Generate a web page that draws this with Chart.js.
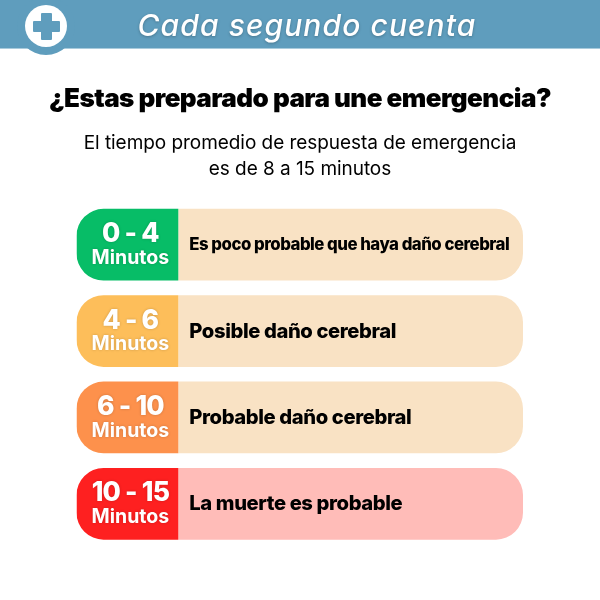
<!DOCTYPE html>
<html lang="es">
<head>
  <meta charset="UTF-8">
  <title>Cada segundo cuenta</title>
  <script src="https://cdn.jsdelivr.net/npm/chart.js"></script>
  <style>
    body {
      margin: 0;
      background: #fff;
      font-family: 'Inter', sans-serif;
      color: #000;
    }
    .page {
      position: relative;
      width: 600px;
      height: 600px;
      overflow: hidden;
    }
    #chart { position: absolute; left: 0; top: 0; }
    .band {
      position: absolute; left: 0; top: 0;
      width: 600px; height: 48px;
      background: #5f9dbd;
      border-bottom: 1px solid #a9cbdc;
    }
    .badge {
      position: absolute; left: 17px; top: -3px;
      width: 58px; height: 58px;
      border-radius: 50%;
      background: #5f9dbd;
    }
    .disc {
      position: absolute; left: 25px; top: 5px;
      width: 42px; height: 42px;
      border-radius: 50%;
      background: #fff;
    }
    .plus-h, .plus-v { position: absolute; background: #5f9dbd; border-radius: 1px; }
    .plus-h { left: 33px; top: 21px; width: 27px; height: 11px; }
    .plus-v { left: 41px; top: 13px; width: 11px; height: 27px; }
    .band-title {
      position: absolute; left: 0; top: 6px;
      width: 614px; text-align: center;
      color: #fff;
      font-size: 30px; line-height: 38px;
      font-style: italic; font-weight: 500;
      letter-spacing: 1.1px;
      text-shadow: 0 1px 3px rgba(0, 0, 0, 0.25);
    }
    h1 {
      position: absolute; left: 0; top: 80px; margin: 0;
      width: 600px; text-align: center;
      font-size: 26px; line-height: 36px; font-weight: 900;
      letter-spacing: -0.55px;
    }
    .sub {
      position: absolute; left: 0; top: 129.5px;
      width: 600px; text-align: center;
      font-size: 19px; line-height: 26px; font-weight: 400;
      letter-spacing: -0.05px;
    }
  </style>
</head>
<body>
  <div class="page">
    <canvas id="chart" width="600" height="600"></canvas>
    <div class="band"></div>
    <div class="badge"></div>
    <div class="disc"></div>
    <div class="plus-h"></div>
    <div class="plus-v"></div>
    <div class="band-title">Cada segundo cuenta</div>
    <h1>¿Estas preparado para une emergencia?</h1>
    <div class="sub">El tiempo promedio de respuesta de emergencia<br>es de 8 a 15 minutos</div>
  </div>

  <script>
    // Rows of the chart, top to bottom
    const ranges = ['0 - 4', '4 - 6', '6 - 10', '10 - 15'];
    const outcomes = [
      'Es poco probable que haya daño cerebral',
      'Posible daño cerebral',
      'Probable daño cerebral',
      'La muerte es probable'
    ];
    const unit = 'Minutos';

    // Share of each pill taken by the coloured part and the text part
    const rangeShare = [22.8, 22.8, 22.8, 22.8];
    const outcomeShare = [77.2, 77.2, 77.2, 77.2];

    const rangeColors = ['#07bd67', '#fdbe5a', '#fd914c', '#fe2020'];
    const outcomeColors = ['#f9e2c4', '#f9e2c4', '#f9e2c4', '#ffbcb8'];
    const outcomeFontSizes = [16.8, 20.2, 20.2, 20.2];

    // Writes the range and outcome on top of each bar
    const pillText = {
      id: 'pillText',
      afterDatasetsDraw(chart) {
        const ctx = chart.ctx;
        const left = chart.getDatasetMeta(0).data;
        ctx.save();
        ctx.textBaseline = 'middle';
        left.forEach((bar, i) => {
          const cx = (bar.base + bar.x) / 2 + 3;
          ctx.textAlign = 'center';
          ctx.fillStyle = '#fff';
          ctx.shadowColor = 'rgba(0, 0, 0, 0.2)';
          ctx.shadowBlur = 3;
          ctx.letterSpacing = '-0.8px';
          ctx.font = '800 26.5px Inter';
          ctx.fillText(ranges[i], cx, bar.y - 10.5);
          ctx.letterSpacing = '0px';
          ctx.font = '700 19.5px Inter';
          ctx.fillText(unit, cx, bar.y + 13.5);

          ctx.shadowBlur = 0;
          ctx.textAlign = 'left';
          ctx.fillStyle = '#000';
          ctx.letterSpacing = i === 0 ? '-0.5px' : '-0.4px';
          ctx.font = `800 ${outcomeFontSizes[i]}px Inter`;
          ctx.fillText(outcomes[i], bar.x + 11, bar.y + 0.5);
        });
        ctx.restore();
      }
    };

    new Chart(document.getElementById('chart').getContext('2d'), {
      type: 'bar',
      data: {
        labels: ranges,
        datasets: [
          {
            label: 'Minutos',
            data: rangeShare,
            backgroundColor: rangeColors,
            borderSkipped: false,
            borderRadius: { topLeft: 27, bottomLeft: 27, topRight: 0, bottomRight: 0 }
          },
          {
            label: 'Resultado',
            data: outcomeShare,
            backgroundColor: outcomeColors,
            borderSkipped: false,
            borderRadius: { topLeft: 0, bottomLeft: 0, topRight: 27, bottomRight: 27 }
          }
        ]
      },
      options: {
        indexAxis: 'y',
        responsive: false,
        animation: false,
        barPercentage: 1,
        categoryPercentage: 0.83,
        layout: { padding: { left: 76.5, right: 77, top: 201.5, bottom: 53 } },
        plugins: { legend: { display: false }, tooltip: { enabled: false } },
        scales: {
          x: { stacked: true, min: 0, max: 100, display: false },
          y: { stacked: true, display: false }
        }
      },
      plugins: [pillText]
    });
  </script>
</body>
</html>
